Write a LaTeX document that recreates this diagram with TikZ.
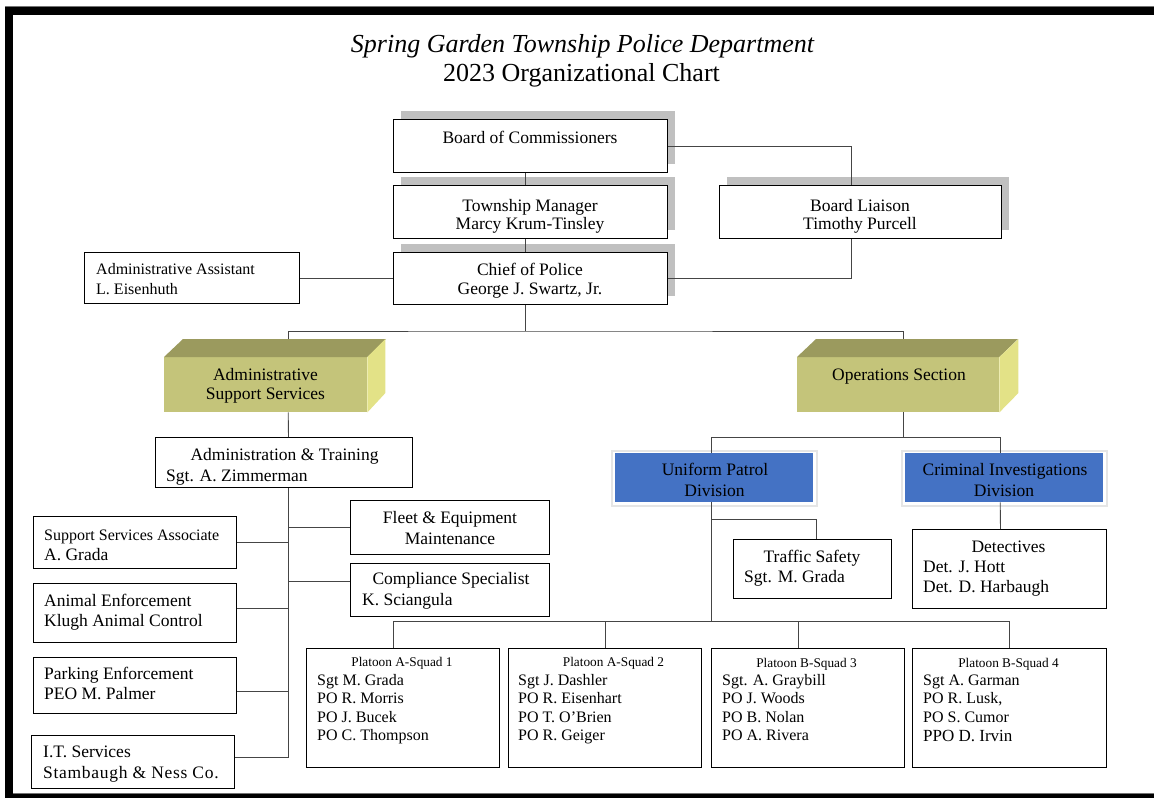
\documentclass[tikz,border=0pt]{standalone}
\usepackage{fontspec}
\setmainfont{Liberation Serif}
\usetikzlibrary{calc}
\definecolor{shadowgray}{HTML}{C0C0C0}
\definecolor{olivefront}{HTML}{C4C47A}
\definecolor{olivetop}{HTML}{9B9A5E}
\definecolor{oliveside}{HTML}{E3E287}
\definecolor{divblue}{HTML}{4472C4}
\definecolor{linegray}{HTML}{454545}
\newcommand\fsSmall{\fontsize{16}{18}\selectfont}
\newcommand\fsHead{\fontsize{13.3}{15}\selectfont}
\newcommand\fsTitle{\fontsize{26}{30}\selectfont}
\begin{document}
\begin{tikzpicture}[x=1pt,y=-1pt,font=\fontsize{17.5}{20}\selectfont,
  box/.style={draw=black, line width=1pt, fill=white, inner sep=0pt, anchor=north west},
  bluebox/.style={fill=divblue, draw=none, inner sep=0pt, anchor=north west},
  olivebox/.style={fill=olivefront, draw=none, inner sep=0pt, anchor=north west},
  conn/.style={draw=linegray, line width=0.9pt},
  shadowbox/.style={fill=shadowgray, draw=none},
  txt/.style={anchor=base, inner sep=0pt},
  ltxt/.style={anchor=base west, inner sep=0pt}]
\useasboundingbox (0,0) rectangle (1154,798);
% page frame
\fill[black!55] (5,6) rectangle (1154,7.5);
\fill[black] (5,7) rectangle (1154,15);
\fill[black] (5,7) rectangle (13,798);
\fill[black!55] (13,792.5) rectangle (1154,794);
\fill[black] (5,794) rectangle (1154,798);

% title
\node[txt, font=\fsTitle\itshape] (t1) at (582.5,52) {Spring Garden Township Police Department};
\node[txt, font=\fsTitle] (t2) at (581.5,81) {2023 Organizational Chart};

% shadows of top boxes
\fill[shadowbox] (401,111) rectangle ++(274,53);
\fill[shadowbox] (401,177) rectangle ++(274,53);
\fill[shadowbox] (401,244) rectangle ++(274,52);
\fill[shadowbox] (727,177) rectangle ++(282,53);

% top boxes
\node[box, minimum width=274pt, minimum height=53pt] (boc) at (393,119) {};
\node[box, minimum width=274pt, minimum height=53pt] (tm) at (393,185) {};
\node[box, minimum width=274pt, minimum height=52pt] (cop) at (393,252) {};
\node[box, minimum width=282pt, minimum height=53pt] (bl) at (719,185) {};
\node[box, minimum width=215pt, minimum height=51pt] (aa) at (84,252) {};

\node[txt] (tboc) at (530,143) {Board of Commissioners};
\node[txt] (ttm1) at (530,211) {Township Manager};
\node[txt] (ttm2) at (530,229) {Marcy Krum-Tinsley};
\node[txt] (tcop1) at (530,275) {Chief of Police};
\node[txt] (tcop2) at (530,294) {George J. Swartz, Jr.};
\node[txt] (tbl1) at (860,211) {Board Liaison};
\node[txt] (tbl2) at (860,229) {Timothy Purcell};
\node[ltxt, font=\fsSmall] (taa1) at (96,274) {Administrative Assistant};
\node[ltxt, font=\fsSmall] (taa2) at (96,294) {L. Eisenhuth};

% 3D section boxes
\node[olivebox, minimum width=203pt, minimum height=55pt] (ass) at (164,357) {};
\fill[olivetop] (ass.north west) -- ++(19,-18) -- ++(203,0) -- (ass.north east) -- cycle;
\fill[oliveside] (ass.north east) -- ++(18,-18) -- ++(0,54) -- (ass.south east) -- cycle;
\node[olivebox, minimum width=202pt, minimum height=55pt] (ops) at (797,357) {};
\fill[olivetop] (ops.north west) -- ++(19,-18) -- ++(202,0) -- (ops.north east) -- cycle;
\fill[oliveside] (ops.north east) -- ++(19,-18) -- ++(0,54) -- (ops.south east) -- cycle;
\coordinate (asstop) at ($(ass.north west)+(124,-18)$);
\coordinate (opstop) at ($(ops.north west)+(106,-18)$);
\node[txt] (tass1) at (265.5,380) {Administrative};
\node[txt] (tass2) at (265.5,399) {Support Services};
\node[txt] (tops) at (899,380) {Operations Section};

% division boxes (blue)
\fill[black!10] (611,450) rectangle (818,507);
\fill[white] (612.5,451.5) rectangle (815.5,504.5);
\node[bluebox, minimum width=198pt, minimum height=49pt] (upd) at (615,453) {};
\fill[black!10] (901,450) rectangle (1108,507);
\fill[white] (902.5,451.5) rectangle (1105.5,504.5);
\node[bluebox, minimum width=198pt, minimum height=49pt] (cid) at (905,453) {};
\node[txt] (tupd1) at (715,475) {Uniform Patrol};
\node[txt] (tupd2) at (714.5,496) {Division};
\node[txt] (tcid1) at (1005,475) {Criminal Investigations};
\node[txt] (tcid2) at (1004,496) {Division};

% operations sub boxes
\node[box, minimum width=158pt, minimum height=59pt] (ts) at (733,539) {};
\node[txt] (tts1) at (812,562) {Traffic Safety};
\node[ltxt] (tts2) at (744,582) {Sgt. M. Grada};
\node[box, minimum width=194pt, minimum height=79pt] (det) at (912,529) {};
\node[txt] (tdet1) at (1008.5,552) {Detectives};
\node[ltxt] (tdet2) at (923,572) {Det. J. Hott};
\node[ltxt] (tdet3) at (923,592) {Det. D. Harbaugh};

% admin side boxes
\node[box, minimum width=257pt, minimum height=50pt] (at) at (155,437) {};
\node[txt] (tat1) at (284.5,460) {Administration \& Training};
\node[ltxt] (tat2) at (166,481) {Sgt. A. Zimmerman};
\node[box, minimum width=199pt, minimum height=54pt] (fem) at (350,500) {};
\node[txt] (tfem1) at (450,523) {Fleet \& Equipment};
\node[txt] (tfem2) at (450,544) {Maintenance};
\node[box, minimum width=199pt, minimum height=53pt] (cs) at (350,563) {};
\node[txt] (tcs1) at (451,584) {Compliance Specialist};
\node[ltxt] (tcs2) at (362,605) {K. Sciangula};
\node[box, minimum width=203pt, minimum height=52pt] (ssa) at (33,516) {};
\node[ltxt, font=\fsSmall] (tssa1) at (44,540) {Support Services Associate};
\node[ltxt] (tssa2) at (44,560) {A. Grada};
\node[box, minimum width=203pt, minimum height=59pt] (ae) at (33,583) {};
\node[ltxt] (tae1) at (44,606) {Animal Enforcement};
\node[ltxt] (tae2) at (44,626) {Klugh Animal Control};
\node[box, minimum width=203pt, minimum height=56pt] (pe) at (33,657) {};
\node[ltxt] (tpe1) at (44,679) {Parking Enforcement};
\node[ltxt] (tpe2) at (44,699) {PEO M. Palmer};
\node[box, minimum width=203pt, minimum height=53pt] (its) at (31,735) {};
\node[ltxt] (tits1) at (43,757) {I.T. Services};
\node[ltxt] (tits2) at (43,778) {\addfontfeature{LetterSpace=4}Stambaugh \& Ness Co.};

% squads
\node[box, minimum width=193pt, minimum height=119pt] (sq1) at (306,648) {};
\node[box, minimum width=193pt, minimum height=119pt] (sq2) at (508,648) {};
\node[box, minimum width=193pt, minimum height=119pt] (sq3) at (711,648) {};
\node[box, minimum width=194pt, minimum height=119pt] (sq4) at (912,648) {};
\node[txt, font=\fsHead] (hsq1) at (402,666) {Platoon A-Squad 1};
\node[txt, font=\fsHead] (hsq2) at (613.5,666) {Platoon A-Squad 2};
\node[txt, font=\fsHead] (hsq3) at (806.5,667) {Platoon B-Squad 3};
\node[txt, font=\fsHead] (hsq4) at (1008.5,667) {Platoon B-Squad 4};
\begin{scope}[every node/.style={ltxt, font=\fsSmall}]
\node (s1a) at (317,685) {Sgt M. Grada};
\node (s1b) at (317,703.5) {PO R. Morris};
\node (s1c) at (317,722) {PO J. Bucek};
\node (s1d) at (317,740) {PO C. Thompson};
\node (s2a) at (518,685) {Sgt J. Dashler};
\node (s2b) at (518,703.5) {PO R. Eisenhart};
\node (s2c) at (518,722) {PO T. O’Brien};
\node (s2d) at (518,740) {PO R. Geiger};
\node (s3a) at (722,685) {Sgt. A. Graybill};
\node (s3b) at (722,703.5) {PO J. Woods};
\node (s3c) at (722,722) {PO B. Nolan};
\node (s3d) at (722,740) {PO A. Rivera};
\node (s4a) at (923,685) {Sgt A. Garman};
\node (s4b) at (923,703.5) {PO R. Lusk,};
\node (s4c) at (923,722) {PO S. Cumor};
\node (s4d) at (923,741) {\fontsize{17}{18}\selectfont PPO D. Irvin};
\end{scope}

% connectors
\draw[conn] ([xshift=-5pt]boc.south) -- ([xshift=-5pt]tm.north);
\draw[conn] ([xshift=-5pt]tm.south) -- ([xshift=-5pt]cop.north);
\draw[conn] (boc.east) -| ([xshift=-9pt]bl.north);
\draw[conn] ([xshift=-9pt]bl.south) |- (cop.east);
\draw[conn] (aa.east) -- (aa.east -| cop.west);
\draw[conn] ([xshift=-5pt]cop.south) -- ++(0,26) coordinate (j1);
\draw[conn] (asstop) |- (j1) -| (opstop);
\draw[conn] ([xshift=22.5pt]ass.south) -- ([xshift=4.5pt]at.north);
\draw[conn] ([xshift=5pt]ops.south) -- ++(0,25) coordinate (j2);
\draw[conn] ([xshift=-3pt]upd.north) |- (j2) -| ([xshift=-4pt]cid.north);
\draw[conn] ([xshift=-4pt]cid.south) -- ([xshift=-9pt]det.north);
% admin spine
\draw[conn] ([xshift=4.5pt]at.south) -- ++(0,270) coordinate (sp);
\draw[conn] (ssa.east) -- (ssa.east -| sp);
\draw[conn] ([yshift=4.5pt]ae.east) -- ([yshift=4.5pt]ae.east -| sp);
\draw[conn] ([yshift=-6pt]pe.east) -- ([yshift=-6pt]pe.east -| sp);
\draw[conn] ([yshift=4.5pt]its.east) -- ([yshift=4.5pt]its.east -| sp);
\draw[conn] (fem.west) -- (fem.west -| sp);
\draw[conn] ([yshift=8.5pt]cs.west) -- ([yshift=8.5pt]cs.west -| sp);
% uniform patrol spine
\draw[conn] ([xshift=-3pt]upd.south) -- ++(0,119) coordinate (j4);
\draw[conn] ($([xshift=-3pt]upd.south)+(0,17)$) -| ([xshift=4pt]ts.north);
\draw[conn] ([xshift=-9.5pt]sq1.north) |- (j4) -| (sq4.north);
\draw[conn] (sq2.north) -- (sq2.north |- j4);
\draw[conn] ([xshift=-9.5pt]sq3.north) -- ([xshift=-9.5pt]sq3.north |- j4);
\end{tikzpicture}
\end{document}
